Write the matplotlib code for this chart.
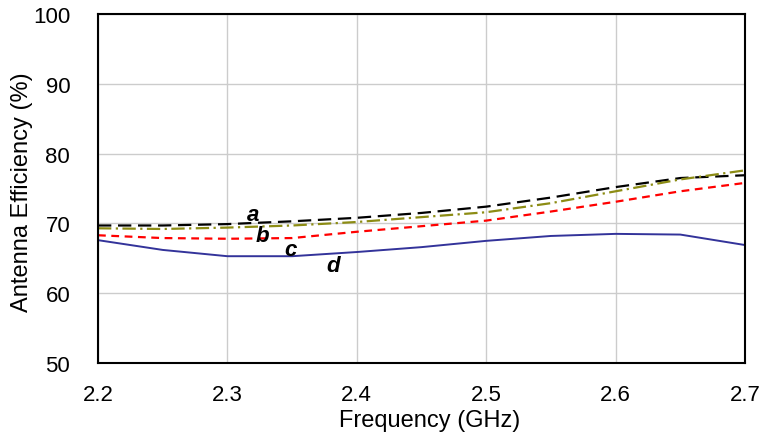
import matplotlib
matplotlib.use("Agg")
import matplotlib.pyplot as plt

plt.rcParams["font.family"] = ["Liberation Sans", "DejaVu Sans"]

freq = [2.2, 2.25, 2.3, 2.35, 2.4, 2.45, 2.5, 2.55, 2.6, 2.65, 2.7]
eff_a = [69.7, 69.7, 69.9, 70.3, 70.8, 71.5, 72.4, 73.7, 75.2, 76.5, 76.9]
eff_b = [69.3, 69.2, 69.4, 69.7, 70.2, 70.9, 71.6, 72.9, 74.6, 76.3, 77.6]
eff_c = [68.3, 67.9, 67.8, 67.9, 68.8, 69.6, 70.4, 71.7, 73.1, 74.6, 75.8]
eff_d = [67.6, 66.2, 65.3, 65.3, 65.9, 66.6, 67.5, 68.2, 68.5, 68.4, 66.9]

# curve labels: (text, x, y)
curve_labels = [("a", 2.32, 71.3), ("b", 2.327, 68.3), ("c", 2.349, 66.3), ("d", 2.382, 64.0)]

fig = plt.figure(figsize=(7.61, 4.35), dpi=100)
ax = fig.add_axes([98 / 761, 71 / 435, 647 / 761, 349 / 435])

ax.plot(freq, eff_a, color="black", linestyle=(0, (6, 3)), linewidth=1.6)
ax.plot(freq, eff_b, color="#8c8c14", linestyle=(0, (6, 2, 1, 2)), linewidth=1.6)
ax.plot(freq, eff_c, color="red", linestyle=(0, (3.5, 2.5)), linewidth=1.6)
ax.plot(freq, eff_d, color="#33339a", linestyle="-", linewidth=1.4)

for txt, x, y in curve_labels:
    ax.text(x, y, txt, fontsize=16, fontweight="bold", fontstyle="italic",
            ha="center", va="center")

ax.set_xlim(2.2, 2.7)
ax.set_ylim(50, 100)
ax.set_xticks([2.2, 2.3, 2.4, 2.5, 2.6, 2.7])
ax.set_xticklabels(["2.2", "2.3", "2.4", "2.5", "2.6", "2.7"])
ax.set_yticks([50, 60, 70, 80, 90, 100])
ax.grid(True, color="#cccccc", linewidth=1)
ax.set_axisbelow(True)
ax.tick_params(axis="x", length=0, pad=15, labelsize=16)
ax.tick_params(axis="y", length=0, pad=20, labelsize=16)
for s in ax.spines.values():
    s.set_linewidth(1.5)
    s.set_color("black")

ax.set_xlabel("Frequency (GHz)", fontsize=17)
ax.set_ylabel("Antenna Efficiency (%)", fontsize=17)
ax.xaxis.set_label_coords(0.512, -0.163)
ax.yaxis.set_label_coords(-0.118, 0.493)
ax.xaxis.label.set_va("center")
ax.yaxis.label.set_va("center")

fig.savefig("out.png", dpi=100)
